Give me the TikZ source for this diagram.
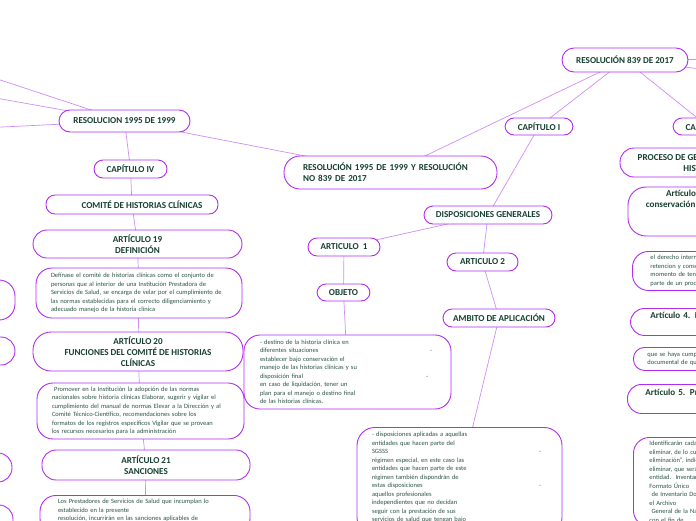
\documentclass[tikz,border=0pt]{standalone}
\usepackage{fontspec}
\setmainfont{Carlito}
\usetikzlibrary{backgrounds,calc}
\definecolor{purp}{HTML}{B12CEF}
\definecolor{conn}{HTML}{CF8DF6}
\definecolor{hdg}{HTML}{173F2F}
\definecolor{bdy}{HTML}{2C5444}
\tikzset{
  hd/.style={font=\fontsize{9.1}{11}\selectfont\bfseries, text=hdg},
  bd/.style={font=\fontsize{6.5}{8.5}\selectfont, text=bdy},
  pill/.style={draw=purp, line width=0.9pt, fill=white, rounded corners=#1, inner sep=0pt, align=center, hd},
  pill/.default=9pt,
  tbox/.style={draw=purp, line width=0.9pt, fill=white, rounded corners=#1, inner ysep=0pt, align=left, bd},
  tbox/.default=14pt,
  link/.style={draw=conn, line width=0.7pt},
}
\begin{document}
\begin{tikzpicture}[x=1pt,y=-1pt]
\useasboundingbox (0,0) rectangle (696,520);
\begin{scope}
\clip (0,0) rectangle (696,520);
\coordinate (offL1) at (-30,70);
\coordinate (offL2) at (-30,93.4);
\coordinate (offL3) at (-30,128.6);
\coordinate (offR1) at (760,59);
\coordinate (offR2) at (760,76);
% left column
\node[pill=11pt, minimum width=131, minimum height=22] (r95) at (124.5,121) {RESOLUCION 1995 DE 1999};
\node[pill, minimum width=73, minimum height=18] (cap4) at (130.5,169) {CAPÍTULO IV};
\node[pill, minimum width=172, minimum height=19] (comite) at (132,204.5) {\hspace*{20pt}COMITÉ DE HISTORIAS CLÍNICAS};
\node[pill=14pt, minimum width=209, minimum height=28] (art19) at (137.5,244) {ARTÍCULO 19\\DEFINICIÓN};
\node[tbox=16pt, minimum height=50, text width=176, inner xsep=15] (def) at (139,293) {Defínase el comité de historias clínicas como el conjunto de\\
personas que al interior de una Institución Prestadora de\\
Servicios de Salud, se encarga de velar por el cumplimiento de\\
las normas establecidas para el correcto diligenciamiento y\\
adecuado manejo de la historia clínica};
\node[pill=18pt, minimum width=210, minimum height=39] (art20) at (138,351.5) {ARTÍCULO 20\\FUNCIONES DEL COMITÉ DE HISTORIAS\\CLÍNICAS};
\node[tbox=16pt, text width=177, inner xsep=15, minimum height=56] (prom) at (140.5,411) {~Promover en la Institución la adopción de las normas\\
nacionales sobre historia clínicas Elaborar, sugerir y vigilar el\\
cumplimiento del manual de normas Elevar a la Dirección y al\\
Comité Técnico-Científico, recomendaciones sobre los\\
formatos de los registros específicos Vigilar que se provean\\
los recursos necesarios para la administración};
\node[pill=14pt, minimum width=208, minimum height=30] (art21) at (146,465) {ARTÍCULO 21\\SANCIONES};
\node[tbox=16pt, text width=174, inner xsep=18, inner ysep=4, anchor=north] (prest) at (145,495) {Los Prestadores de Servicios de Salud que incumplan lo\\
establecido en la presente\\
resolución, incurrirán en las sanciones aplicables de\\
acuerdo con las normas vigentes};
% partial nodes at the left edge
\node[tbox=16pt, minimum width=150, minimum height=40] (lp1) at (-60,300) {};
\node[tbox=14pt, minimum width=150, minimum height=28] (lp2) at (-60,351) {};
\node[tbox=14pt, minimum width=150, minimum height=29] (lp3) at (-63,467.5) {};
\node[tbox=14pt, minimum width=150, minimum height=40] (lp4) at (-62,525) {};
% middle
\node[pill=16pt, minimum width=213, minimum height=33, text width=175, align=left] (r9539) at (390.5,172.5) {RESOLUCIÓN 1995 DE 1999 Y RESOLUCIÓN\\NO 839 DE 2017};
\node[pill=12pt, minimum width=126, minimum height=24] (r839) at (625,60) {RESOLUCIÓN 839 DE 2017};
\node[pill, minimum width=68, minimum height=17] (cap1) at (539,126.5) {CAPÍTULO I};
\node[pill, minimum width=70, minimum height=17] (cap2) at (708,126.5) {CAPÍTULO II};
\node[pill, minimum width=128, minimum height=18] (disp) at (488,215) {DISPOSICIONES GENERALES};
\node[pill, minimum width=72, minimum height=18] (art1) at (344,247) {ARTICULO~~1};
\node[pill, minimum width=71, minimum height=18] (art2) at (482.5,262) {ARTICULO 2};
\node[pill, minimum width=53, minimum height=17] (obj) at (343.5,292.5) {OBJETO};
\node[pill, minimum width=112, minimum height=18] (amb) at (499,318) {AMBITO DE APLICACIÓN};
\node[tbox=16pt, text width=175, inner xsep=16, minimum height=74] (dest) at (347.5,372) {- destino de la historia clínica en\\
diferentes situaciones\hfill-\kern3pt\\
establecer bajo conservación el\\
manejo de las historias clínicas y su\\
disposición final\hfill-\kern7pt\\
en caso de liquidación, tener un\\
plan para el manejo o destino final\\
de las historias clínicas.};
\node[tbox=18pt, text width=175, inner xsep=15, inner ysep=5, anchor=north] (dbox) at (459.5,427) {- disposiciones aplicadas a aquellas\\
entidades que hacen parte del\\
SGSSS\hfill-\kern6pt\\
régimen especial, en este caso las\\
entidades que hacen parte de este\\
régimen también dispondrán de\\
estas disposiciones\hfill-\kern6pt\\
aquellos profesionales\\
independientes que no decidan\\
seguir con la prestación de sus\\
servicios de salud que tengan bajo\\
su custodia historias clínicas};
% right column
\node[pill=14pt, minimum width=203, minimum height=29] (proc) at (721.5,162.5) {PROCESO DE GESTIÓN DOCUMENTAL DE LAS\\HISTORIAS CLÍNICAS};
\node[pill=18pt, minimum width=162, minimum height=49] (art3) at (709,211.5) {Artículo 3. Retención y\\conservación de la historia clínica\\\strut\\\strut};
\node[tbox=16pt, text width=204, inner xsep=18, minimum height=39, anchor=north west] (der) at (632,251) {el derecho interno de las entidades sobre la\\
retencion y conservación de los documentos\\
momento de tener en cuenta que hacen\\
parte de un proceso de gestión documental};
\node[tbox=14pt, hd, text width=200, inner xsep=20, minimum height=27, anchor=north west] (art4) at (630,308) {Artículo 4. Disposición final de las historias\\\strut};
\node[tbox=11pt, text width=200, inner xsep=14, minimum height=23, anchor=north west] (que) at (633,347) {que se haya cumplido el tiempo de retención\\
documental de que trata el artículo anterior};
\node[tbox=14pt, hd, text width=200, inner xsep=18, minimum height=29, anchor=north west] (art5) at (627,384) {Artículo 5. Procedimiento de eliminación\\\strut};
\node[tbox=16pt, text width=200, inner xsep=16, inner ysep=4, anchor=north west] (ident) at (633,437) {Identificarán cada una de las historias clínicas a\\
eliminar, de lo cual se dejará constancia en un\\
eliminación", indicando las historias clínicas a\\
eliminar, que será publicado en la página web de la\\
entidad.~~Inventario Documental, en el\\
Formato Único\\
~de Inventario Documental adoptado por\\
el Archivo\\
~General de la Nación\\
con el fin de};
\begin{pgfonlayer}{background}
\draw[link] (offL1) -- (r95.center);
\draw[link] (offL2) -- (r95.center);
\draw[link] (offL3) -- (r95.center);
\draw[link] (r95.center) -- (r9539.center);
\draw[link] (r95.center) -- (cap4.center);
\draw[link] (cap4.center) -- (comite.center);
\draw[link] (comite.center) -- (art19.center);
\draw[link] (art19.center) -- (def.center);
\draw[link] (def.center) -- (art20.center);
\draw[link] (art20.center) -- (prom.center);
\draw[link] (prom.center) -- (art21.center);
\draw[link] (art21.center) -- (prest.center);
\draw[link] (r9539.center) -- (r839.center);
\draw[link] (r839.center) -- (cap1.center);
\draw[link] (r839.center) -- (cap2.center);
\draw[link] (r839.center) -- (offR1);
\draw[link] (r839.center) -- (offR2);
\draw[link] (cap1.center) -- (disp.center);
\draw[link] (disp.center) -- (art1.center);
\draw[link] (disp.center) -- (art2.center);
\draw[link] (art1.center) -- (obj.center);
\draw[link] (obj.center) -- (dest.center);
\draw[link] (art2.center) -- (amb.center);
\draw[link] (amb.center) -- (dbox.center);
\draw[link] (cap2.center) -- (proc.center);
\draw[link] (proc.center) -- (art3.center);
\draw[link] (art3.center) -- (der.center);
\draw[link] (der.center) -- (art4.center);
\draw[link] (art4.center) -- (que.center);
\draw[link] (que.center) -- (art5.center);
\draw[link] (art5.center) -- (ident.center);
\end{pgfonlayer}
\end{scope}
\end{tikzpicture}
\end{document}
